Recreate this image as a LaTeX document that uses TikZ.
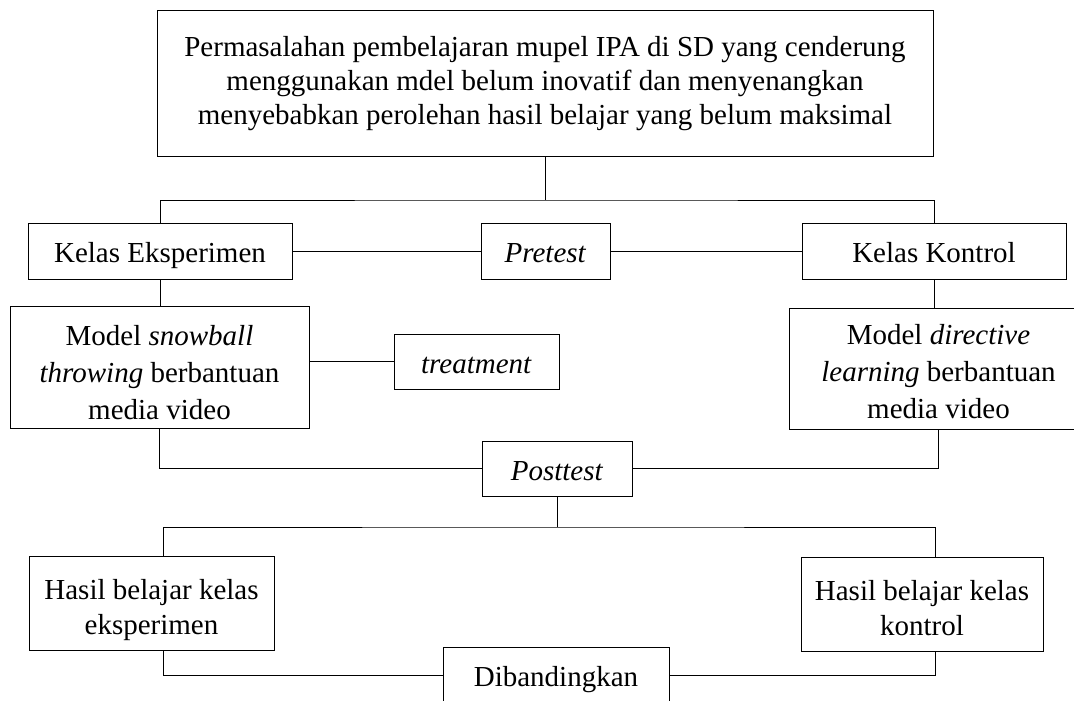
\documentclass[tikz,border=0pt]{standalone}
\usepackage{fontspec}
\setmainfont{Liberation Serif}
\tikzset{
  kotak/.style={draw, line width=1pt, align=center, inner sep=0pt,
    font=\fontsize{29}{35}\selectfont},
  satubaris/.style={kotak, text height=26pt, text depth=3pt},
  garis/.style={line width=1pt}
}

\begin{document}
\begin{tikzpicture}[x=1pt,y=-1pt]
\clip (0,0) rectangle (1074,701); % ukuran gambar
% kotak-kotak
\node[kotak, minimum width=776pt, minimum height=145pt, font=\fontsize{29}{34}\selectfont] (masalah) at (545,83.5)
  {Permasalahan pembelajaran mupel IPA di SD yang cenderung\\menggunakan mdel belum inovatif dan menyenangkan\\menyebabkan perolehan hasil belajar yang belum maksimal};
\node[satubaris, minimum width=264pt, minimum height=56pt] (eksperimen) at (160,251) {Kelas Eksperimen};
\node[satubaris, minimum width=129pt, minimum height=56pt] (pretest) at (545.5,251) {\textit{Pretest}};
\node[satubaris, minimum width=264pt, minimum height=56pt] (kontrol) at (934,251) {Kelas Kontrol};
\node[kotak, minimum width=299pt, minimum height=122pt, font=\fontsize{29}{37}\selectfont] (snowball) at (159.5,367)
  {\rule{0pt}{32pt}Model \textit{snowball}\\\textit{throwing} berbantuan\\media video};
\node[satubaris, minimum width=165pt, minimum height=55pt] (treatment) at (476.5,361.5) {\textit{treatment}};
\node[kotak, minimum width=299pt, minimum height=121pt, font=\fontsize{29}{37}\selectfont] (directive) at (938.5,368.5)
  {\rule{0pt}{26pt}Model \textit{directive}\\\textit{learning} berbantuan\\media video};
\node[satubaris, minimum width=150pt, minimum height=55pt] (posttest) at (557,468.5) {\textit{Posttest}};
\node[kotak, minimum width=245pt, minimum height=94pt] (hasileks) at (151.5,603)
  {\rule{0pt}{34pt}Hasil belajar kelas\\eksperimen};
\node[kotak, minimum width=242pt, minimum height=94pt] (hasilkon) at (922,604)
  {\rule{0pt}{29pt}Hasil belajar kelas\\kontrol};
\node[satubaris, minimum width=226pt, minimum height=56pt] (dibanding) at (556,675) {Dibandingkan};
% titik cabang
\coordinate (cabang1) at (545,200);
\coordinate (cabang2) at (557,527);
\coordinate (kiri) at (163,527);
\coordinate (kanan) at (935,527);
% garis penghubung
\draw[garis] (masalah.south) -- (cabang1);
\draw[garis] (eksperimen.north) |- (cabang1) -| (kontrol.north);
\foreach \a/\b in {eksperimen.east/pretest.west, pretest.east/kontrol.west,
  posttest.south/cabang2}
\draw[garis] (\a) -- (\b);
\draw[garis] (eksperimen.south) -- (eksperimen.south |- snowball.north);
\draw[garis] (kontrol.south) -- (kontrol.south |- directive.north);
\draw[garis] (treatment.west) -- (treatment.west -| snowball.east);
\draw[garis] (snowball.south) |- (posttest.west);
\draw[garis] (posttest.east) -| (directive.south);
\draw[garis] (hasileks.north -| kiri) |- (cabang2) -| (hasilkon.north -| kanan);
\draw[garis] (hasileks.south -| kiri) |- (dibanding.west);
\draw[garis] (hasilkon.south -| kanan) |- (dibanding.east);
\end{tikzpicture}
\end{document}
